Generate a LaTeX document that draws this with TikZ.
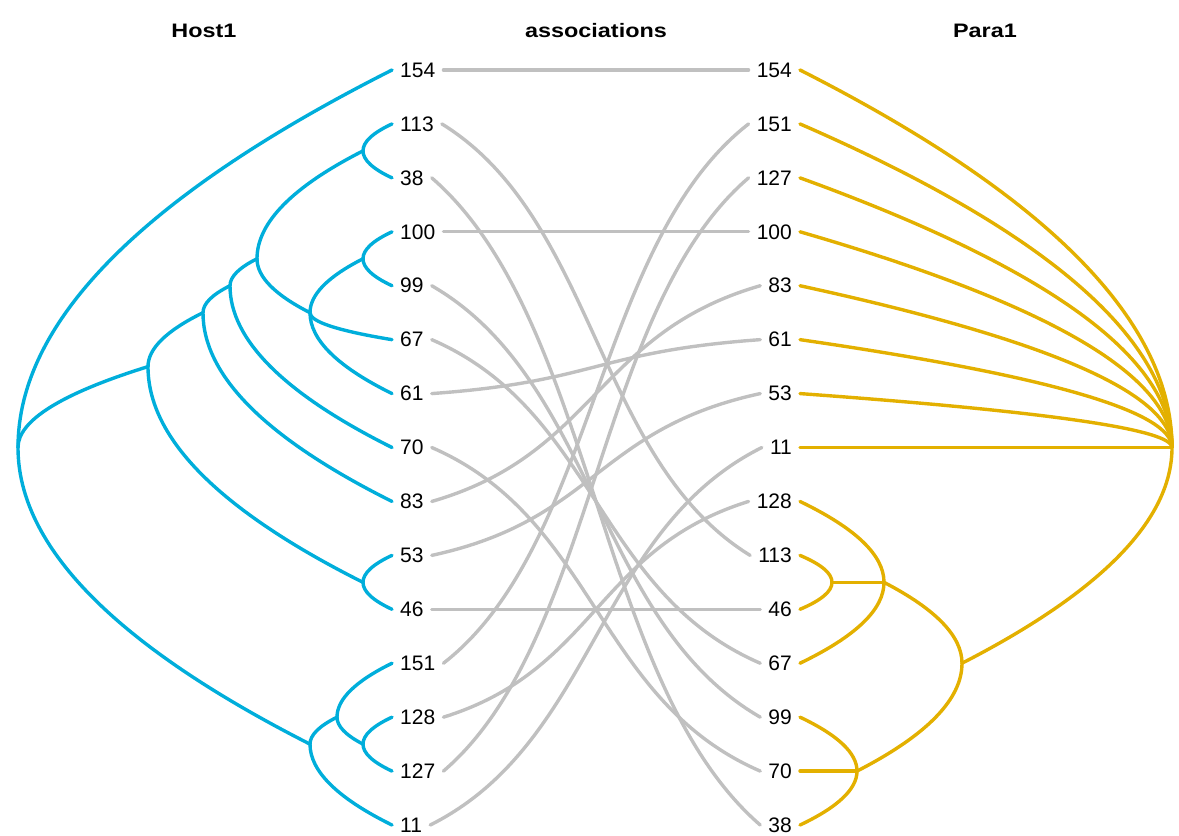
\documentclass[tikz,border=0pt]{standalone}
\usepackage{fontspec}
\setmainfont{Liberation Sans}
\usetikzlibrary{calc}
\definecolor{hostc}{HTML}{00AEDB}
\definecolor{parac}{HTML}{E3B000}
\definecolor{assocc}{HTML}{C0C0C0}
\tikzset{
  hostline/.style={draw=hostc,line width=3.4pt,line cap=round},
  paraline/.style={draw=parac,line width=3.4pt,line cap=round},
  assocline/.style={draw=assocc,line width=3.4pt,line cap=round},
  leaflab/.style={inner xsep=8pt,inner ysep=0pt,font=\fontsize{21}{22}\selectfont},
  hleaf/.style={leaflab,anchor=west},
  pleaf/.style={leaflab,anchor=east},
  coltitle/.style={font=\fontsize{19.5}{20}\selectfont\bfseries,inner sep=0pt}
}
\newcommand\tlink[3]{\draw[#1] let \p1=(#2), \p2=(#3) in (\p1) .. controls (\x1,{\y1+(\y2-\y1)/3}) and ({\x2+2*(\x1-\x2)/3},{\y2-(\y2-\y1)/3}) .. (\p2);}
\newcommand\alink[2]{\draw[assocline] let \p1=(#1), \p2=(#2) in (\p1) .. controls ({\x1+0.5*(\x2-\x1)},{\y1+0.22*(\y2-\y1)}) and ({\x2-0.5*(\x2-\x1)},{\y2-0.22*(\y2-\y1)}) .. (\p2);}
\begin{document}
\begin{tikzpicture}[x=1pt,y=-1pt]
\useasboundingbox (0,0) rectangle (1179,836);
% titles
\node[coltitle] (tHost) at (204,31) {\scalebox{1.2}[1]{Host1}};
\node[coltitle] (tAssoc) at (596,31) {\scalebox{1.2}[1]{associations}};
\node[coltitle] (tPara) at (985,31) {\scalebox{1.2}[1]{Para1}};
% leaf labels
\foreach \lab [count=\i from 0] in {154,113,38,100,99,67,61,70,83,53,46,151,128,127,11}
  {\node[hleaf] (h\lab) at (392,{70+53.93*\i}) {\lab};}
\foreach \lab [count=\i from 0] in {154,151,127,100,83,61,53,11,128,113,46,67,99,70,38}
  {\node[pleaf] (p\lab) at (800,{70+53.93*\i}) {\lab};}
% host tree nodes
\coordinate (hR) at (18,{70+53.93*7});
\coordinate (hA) at (148,{70+53.93*5.5});
\coordinate (hG) at (203,{70+53.93*4.5});
\coordinate (hH) at (230,{70+53.93*4});
\coordinate (hI) at (257,{70+53.93*3.5});
\coordinate (hN1) at (363,{70+53.93*1.5});
\coordinate (hC) at (310,{70+53.93*4.5});
\coordinate (hN2) at (363,{70+53.93*3.5});
\coordinate (hD) at (363,{70+53.93*9.5});
\coordinate (hB) at (310,{70+53.93*12.5});
\coordinate (hE) at (337,{70+53.93*12});
\coordinate (hF) at (363,{70+53.93*12.5});
% host links
\tlink{hostline}{hR}{h154.west}
\tlink{hostline}{hR}{hA}
\tlink{hostline}{hR}{hB}
\tlink{hostline}{hA}{hG}
\tlink{hostline}{hA}{hD}
\tlink{hostline}{hG}{hH}
\tlink{hostline}{hG}{h83.west}
\tlink{hostline}{hH}{hI}
\tlink{hostline}{hH}{h70.west}
\tlink{hostline}{hI}{hN1}
\tlink{hostline}{hI}{hC}
\tlink{hostline}{hN1}{h113.west}
\tlink{hostline}{hN1}{h38.west}
\tlink{hostline}{hC}{hN2}
\tlink{hostline}{hC}{h67.west}
\tlink{hostline}{hC}{h61.west}
\tlink{hostline}{hN2}{h100.west}
\tlink{hostline}{hN2}{h99.west}
\tlink{hostline}{hD}{h53.west}
\tlink{hostline}{hD}{h46.west}
\tlink{hostline}{hB}{hE}
\tlink{hostline}{hB}{h11.west}
\tlink{hostline}{hE}{h151.west}
\tlink{hostline}{hE}{hF}
\tlink{hostline}{hF}{h128.west}
\tlink{hostline}{hF}{h127.west}
% para tree nodes
\coordinate (pR) at (1172,{70+53.93*7});
\coordinate (pP) at (962,{70+53.93*11});
\coordinate (pQ) at (884,{70+53.93*9.5});
\coordinate (pT) at (832,{70+53.93*9.5});
\coordinate (pS) at (857,{70+53.93*13});
% para links
\foreach \lab in {154,151,127,100,83,61,53,11}
  {\tlink{paraline}{pR}{p\lab.east}}
\tlink{paraline}{pR}{pP}
\tlink{paraline}{pP}{pQ}
\tlink{paraline}{pP}{pS}
\tlink{paraline}{pQ}{p128.east}
\tlink{paraline}{pQ}{pT}
\tlink{paraline}{pQ}{p67.east}
\tlink{paraline}{pT}{p113.east}
\tlink{paraline}{pT}{p46.east}
\tlink{paraline}{pS}{p99.east}
\tlink{paraline}{pS}{p70.east}
\tlink{paraline}{pS}{p38.east}
% associations
\foreach \lab in {154,113,38,100,99,67,61,70,83,53,46,151,128,127,11}
  {\alink{h\lab.east}{p\lab.west}}
\end{tikzpicture}
\end{document}
